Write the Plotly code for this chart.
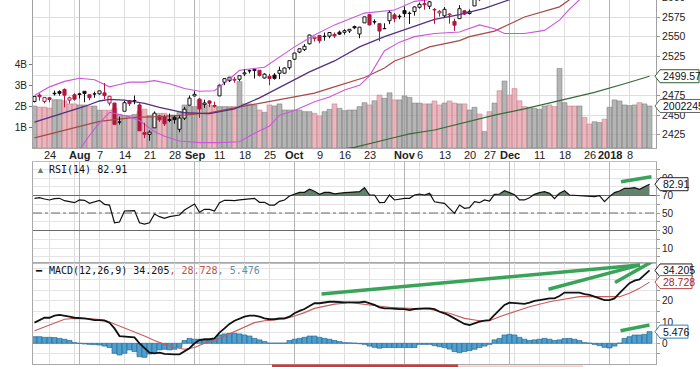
import plotly.graph_objects as go

W, H = 700, 367

# ---------------- data ----------------
# trading-day position 0 = 2017-07-19 ... 123 = 2018-01-12
opens = [
    2467.40, 2475.56, 2467.40, 2472.04, 2477.88, 2479.97, 2482.76, 2469.12, 2475.94, 2477.10,
    2480.38, 2476.03, 2476.88, 2477.14, 2478.35, 2465.35, 2465.38, 2441.04, 2454.96, 2468.66,
    2468.63, 2462.95, 2427.64, 2425.50, 2433.75, 2449.00, 2447.91, 2444.50, 2447.35, 2431.94,
    2446.06, 2462.65, 2474.42, 2470.35, 2463.83, 2468.06, 2462.25, 2474.52, 2491.94, 2493.89,
    2494.56, 2495.67, 2502.51, 2506.29, 2506.84, 2507.16, 2497.26, 2499.39, 2501.04, 2503.30,
    2503.41, 2510.42, 2521.20, 2530.34, 2533.48, 2540.86, 2547.44, 2551.39, 2549.99, 2550.62,
    2552.88, 2555.66, 2555.57, 2557.17, 2562.87, 2553.39, 2567.56, 2578.08, 2568.66, 2566.52,
    2560.08, 2570.26, 2577.75, 2575.99, 2583.21, 2579.46, 2581.93, 2587.47, 2592.11, 2588.71,
    2584.00, 2580.18, 2576.53, 2577.75, 2569.45, 2572.95, 2582.94, 2579.49, 2589.17, 2600.31,
    2600.42, 2602.66, 2605.94, 2627.82, 2633.93, 2645.10, 2657.19, 2639.78, 2626.24, 2628.38,
    2646.21, 2652.19, 2661.73, 2667.59, 2665.87, 2660.63, 2685.92, 2692.71, 2688.18, 2683.02,
    2684.22, 2679.09, 2682.10, 2686.10, 2689.15, 2683.73, 2697.85, 2719.31, 2731.33, 2742.67,
    2751.15, 2745.55, 2752.97, 2770.18]
highs = [
    2473.83, 2477.62, 2472.54, 2473.10, 2481.24, 2481.69, 2484.04, 2473.53, 2477.96, 2478.51,
    2480.38, 2476.03, 2480.00, 2480.95, 2490.87, 2474.41, 2465.38, 2448.09, 2468.22, 2468.90,
    2474.93, 2465.02, 2440.27, 2430.58, 2454.77, 2450.50, 2450.39, 2451.95, 2449.12, 2449.19,
    2460.61, 2475.01, 2480.38, 2471.97, 2469.64, 2468.62, 2467.11, 2488.95, 2496.77, 2498.37,
    2498.43, 2500.23, 2508.32, 2507.84, 2508.85, 2507.16, 2503.47, 2502.54, 2503.51, 2511.75,
    2510.81, 2519.44, 2529.23, 2535.13, 2540.53, 2552.51, 2549.41, 2551.82, 2555.23, 2555.24,
    2555.33, 2557.65, 2559.47, 2559.71, 2564.11, 2562.36, 2575.44, 2578.29, 2572.18, 2567.40,
    2567.07, 2582.98, 2580.03, 2578.29, 2588.40, 2582.07, 2588.42, 2593.38, 2597.02, 2595.47,
    2586.50, 2583.81, 2587.66, 2579.66, 2572.84, 2590.09, 2583.96, 2584.64, 2601.19, 2600.94,
    2604.21, 2606.41, 2627.69, 2634.89, 2657.74, 2650.62, 2665.19, 2648.72, 2634.41, 2640.99,
    2651.65, 2660.33, 2669.72, 2671.88, 2668.09, 2679.63, 2694.97, 2694.44, 2691.01, 2692.64,
    2685.35, 2682.74, 2685.64, 2687.66, 2692.12, 2695.89, 2714.37, 2729.29, 2743.45, 2748.51,
    2759.14, 2750.80, 2767.56, 2787.85]
lows = [
    2466.18, 2468.43, 2465.06, 2466.32, 2474.91, 2474.94, 2459.93, 2464.66, 2468.53, 2471.14,
    2466.48, 2468.85, 2472.08, 2475.88, 2470.32, 2462.08, 2437.75, 2437.85, 2454.96, 2461.61,
    2463.86, 2430.01, 2420.69, 2417.35, 2433.67, 2441.42, 2436.19, 2441.04, 2439.03, 2428.20,
    2443.77, 2462.65, 2473.85, 2446.55, 2459.20, 2460.29, 2459.40, 2474.52, 2488.31, 2492.14,
    2491.35, 2493.16, 2499.92, 2503.19, 2496.67, 2499.00, 2496.54, 2488.03, 2495.12, 2495.91,
    2502.93, 2507.99, 2520.40, 2528.85, 2531.80, 2540.02, 2543.79, 2541.60, 2544.86, 2547.95,
    2548.31, 2552.09, 2552.64, 2554.69, 2559.67, 2547.92, 2567.56, 2564.33, 2565.58, 2544.00,
    2559.80, 2565.94, 2568.25, 2572.15, 2574.92, 2566.17, 2576.77, 2585.66, 2584.35, 2585.02,
    2566.33, 2575.57, 2574.48, 2566.56, 2557.45, 2572.95, 2577.62, 2578.24, 2589.17, 2595.23,
    2600.42, 2598.87, 2605.44, 2620.32, 2633.93, 2605.52, 2639.03, 2627.73, 2624.75, 2628.09,
    2644.10, 2651.47, 2659.78, 2662.85, 2652.01, 2659.14, 2685.92, 2680.74, 2676.11, 2682.40,
    2678.13, 2677.96, 2678.91, 2682.69, 2673.61, 2682.36, 2697.77, 2719.07, 2727.92, 2737.60,
    2747.86, 2736.06, 2752.78, 2769.64]
closes = [
    2473.83, 2473.45, 2472.54, 2469.91, 2477.13, 2477.83, 2475.42, 2472.10, 2470.30, 2476.35,
    2477.57, 2472.16, 2476.83, 2480.91, 2474.92, 2474.02, 2438.21, 2441.32, 2465.84, 2464.61,
    2468.11, 2430.01, 2425.55, 2428.37, 2452.51, 2444.04, 2438.97, 2443.05, 2444.24, 2446.30,
    2457.59, 2471.65, 2476.55, 2457.85, 2465.54, 2465.10, 2461.43, 2488.11, 2496.48, 2498.37,
    2495.62, 2500.23, 2503.87, 2506.65, 2508.24, 2500.60, 2502.22, 2496.66, 2496.84, 2507.04,
    2510.06, 2519.36, 2529.12, 2534.58, 2537.74, 2552.07, 2549.33, 2544.73, 2550.64, 2555.24,
    2550.93, 2553.17, 2557.64, 2559.36, 2561.26, 2562.10, 2575.21, 2564.98, 2569.13, 2557.15,
    2560.40, 2581.07, 2572.83, 2575.26, 2579.36, 2579.85, 2587.84, 2591.13, 2590.64, 2594.38,
    2584.62, 2582.30, 2584.84, 2578.87, 2564.62, 2585.64, 2578.85, 2582.14, 2599.03, 2597.08,
    2602.42, 2601.42, 2627.04, 2626.07, 2647.58, 2642.22, 2639.44, 2629.57, 2629.27, 2636.98,
    2651.50, 2659.99, 2664.11, 2662.85, 2652.01, 2675.81, 2690.16, 2681.47, 2679.25, 2684.57,
    2683.34, 2680.50, 2682.62, 2687.54, 2673.61, 2695.81, 2713.06, 2723.99, 2743.15, 2747.71,
    2751.29, 2748.23, 2767.56, 2786.24]
prev_close_start = 2460.61

volume_billions = [
    2.00, 1.95, 1.95, 1.90, 2.30, 2.30, 2.25, 2.10, 2.10, 2.05,
    2.05, 2.00, 2.00, 1.80, 1.80, 1.80, 1.90, 1.60, 1.55, 1.55,
    1.60, 1.75, 1.85, 1.55, 1.60, 1.65, 1.65, 1.57, 1.57, 1.73,
    2.05, 2.00, 1.97, 2.29, 2.10, 2.05, 2.00, 1.97, 1.97, 1.97,
    1.97, 3.16, 2.10, 2.10, 2.05, 1.81, 1.70, 2.05, 2.00, 2.10,
    1.81, 1.81, 1.81, 1.81, 1.73, 1.73, 1.65, 1.52, 1.73, 1.84,
    2.10, 1.89, 1.78, 1.81, 1.81, 1.97, 2.16, 2.05, 2.25, 2.52,
    2.37, 2.63, 2.29, 2.29, 2.48, 2.41, 2.14, 2.14, 2.10, 2.10,
    2.24, 2.05, 2.14, 2.24, 2.14, 2.10, 2.10, 1.81, 1.94, 1.62,
    0.78, 1.73, 2.14, 2.73, 3.19, 2.52, 2.83, 2.25, 1.97, 1.94,
    1.89, 1.84, 2.00, 2.05, 1.97, 3.79, 2.16, 2.00, 2.00, 2.00,
    1.46, 1.14, 1.25, 1.21, 1.37, 1.94, 2.29, 2.24, 2.05, 2.02,
    2.05, 2.16, 2.10, 2.002]

bb_upper_x = [0, 3, 6, 9, 12, 14, 15, 17, 19, 22, 24, 27, 30, 33, 36, 39, 41, 46, 52, 56, 60, 66, 72,
              76, 80, 85, 88, 90, 95, 100, 105, 110, 115, 120, 123]
bb_upper = [2475, 2486, 2493, 2497, 2495, 2489, 2486, 2489, 2492, 2492, 2494, 2490, 2484, 2480.5, 2481,
            2496, 2507, 2511, 2537, 2552, 2565, 2580, 2584, 2595, 2598, 2599, 2601, 2612, 2640, 2670,
            2690, 2705, 2706, 2755, 2790]
bb_mid_x = [0, 5, 10, 13, 15, 18, 22, 25, 30, 35, 40, 45, 50, 55, 60, 65, 70, 75, 80, 85, 90, 95,
            100, 105, 110, 115, 120, 123]
bb_mid = [2441, 2451, 2461, 2468, 2470, 2469, 2465, 2460, 2453, 2452, 2458, 2472, 2489, 2505, 2519,
          2537, 2550, 2561, 2572, 2578, 2586, 2597, 2612, 2630, 2652, 2668, 2692, 2710]
bb_lower_x = [0, 4, 7, 9, 11, 13, 15, 17, 19, 21, 22, 24, 26, 29, 33, 37, 41, 44, 47, 49, 52, 56, 59,
              62, 65, 67, 70, 73, 76, 80, 85, 87, 89, 92, 94, 98, 102, 105, 107, 109, 112, 116, 120, 123]
bb_lower = [2403, 2400, 2400, 2406, 2424, 2440, 2453.6, 2451, 2448, 2443, 2438, 2429, 2423, 2417,
            2415, 2415, 2416, 2427, 2436, 2450, 2456, 2467, 2473, 2482, 2488, 2500, 2532, 2543, 2550,
            2554, 2556, 2560, 2565, 2560, 2554, 2554, 2558, 2571, 2585, 2597, 2612, 2625, 2640, 2650]
sma50_x = [0, 5, 9, 13, 20, 25, 30, 35, 39, 45, 50, 52, 56, 59, 63, 66, 70, 72, 75, 79, 85, 87, 92,
           98, 105, 107, 110, 115, 120, 123]
sma50 = [2421, 2429, 2436, 2442, 2447, 2448, 2450, 2453, 2458, 2465, 2471, 2473, 2478, 2484, 2492,
         2498, 2510, 2519, 2526, 2537, 2545, 2550, 2557, 2575, 2588, 2597, 2606, 2620, 2636, 2645]
sma200_x = [0, 10, 20, 30, 40, 50, 60, 64, 72, 75, 80, 87, 92, 98, 105, 112, 118, 123]
sma200 = [2352, 2360, 2368, 2377, 2387, 2396, 2405, 2409, 2421.5, 2426, 2431, 2442, 2450, 2458,
          2468.6, 2479, 2490, 2499.57]

rsi14 = [
    66.8, 67.5, 66.0, 64.9, 66.4, 66.8, 64.1, 63.0, 61.8, 64.9,
    64.5, 61.0, 62.6, 64.5, 59.9, 59.1, 38.9, 39.7, 52.3, 52.3,
    52.7, 38.9, 37.4, 38.9, 48.9, 45.8, 43.9, 45.8, 46.6, 47.7,
    53.4, 57.2, 60.3, 50.8, 54.2, 54.2, 52.3, 61.8, 64.5, 64.5,
    64.1, 64.9, 65.6, 66.4, 66.8, 62.2, 62.2, 59.1, 59.1, 63.3,
    64.9, 69.4, 71.3, 73.6, 73.6, 77.1, 74.8, 71.3, 73.6, 73.6,
    71.8, 72.9, 73.2, 73.6, 74.4, 74.4, 78.9, 70.6, 70.6, 61.8,
    62.2, 70.6, 64.9, 66.0, 66.8, 66.8, 70.6, 71.7, 70.6, 72.5,
    62.9, 61.8, 61.0, 55.3, 49.6, 59.1, 55.3, 56.1, 62.9, 61.8,
    64.9, 63.7, 71.3, 71.7, 75.5, 73.3, 70.9, 64.9, 64.9, 67.5,
    71.3, 73.3, 74.4, 72.5, 66.4, 72.5, 75.5, 70.6, 70.2, 70.6,
    69.4, 69.0, 68.7, 69.8, 62.9, 68.7, 73.3, 75.1, 78.2, 78.2,
    78.9, 77.1, 80.1, 82.91]
rsi_overbought, rsi_mid, rsi_oversold = 70, 50, 30

macd_line = [
    9.7, 10.9, 12.0, 12.0, 13.0, 13.3, 13.0, 12.5, 12.0, 12.0,
    11.7, 11.3, 10.9, 10.9, 10.6, 9.7, 7.0, 3.4, 3.1, 3.1,
    2.8, 0.0, -2.3, -4.4, -4.7, -4.4, -5.0, -5.2, -5.2, -5.2,
    -3.9, -2.3, 0.0, 1.5, 1.9, 1.9, 2.3, 5.0, 7.0, 9.1,
    10.6, 11.7, 12.5, 13.0, 13.0, 12.5, 11.7, 11.3, 11.3, 11.7,
    11.7, 12.5, 14.1, 15.2, 16.1, 17.5, 18.8, 18.8, 19.2, 19.5,
    19.5, 19.2, 19.2, 19.2, 19.1, 19.2, 19.5, 18.8, 18.0, 16.9,
    16.4, 16.4, 16.1, 16.0, 16.0, 15.6, 16.1, 16.4, 16.4, 16.4,
    16.0, 14.8, 14.1, 13.0, 11.7, 10.2, 9.1, 8.6, 9.4, 10.2,
    10.6, 10.9, 13.3, 15.6, 18.0, 19.1, 18.8, 18.5, 18.5, 19.1,
    19.9, 20.3, 20.7, 21.1, 21.1, 22.2, 23.8, 23.9, 23.9, 23.8,
    23.1, 22.7, 21.9, 21.1, 20.3, 20.3, 21.1, 23.5, 25.8, 28.2,
    29.4, 30.0, 32.1, 34.205]
macd_signal_x = [0, 2, 4, 6, 8, 10, 12, 14, 16, 18, 20, 22, 24, 26, 28, 30, 32, 34, 36, 38, 40, 42,
                 44, 46, 48, 50, 52, 54, 56, 58, 60, 62, 63, 67, 71, 75, 79, 83, 86, 89, 91, 93, 95,
                 97, 99, 101, 103, 105, 107, 109, 111, 113, 115, 117, 119, 121, 123]
macd_signal = [5.9, 7.8, 9.7, 11.3, 11.7, 11.7, 11.4, 10.9, 9.1, 7.0, 5.5, 3.4, 1.3, -0.5, -1.9,
               -2.8, -2.0, 0.0, 1.3, 3.4, 5.5, 7.5, 9.7, 10.6, 10.9, 11.4, 12.8, 14.4, 16.4, 17.5,
               18.4, 18.8, 19.2, 18.0, 16.9, 16.4, 16.0, 14.1, 11.7, 10.6, 10.6, 12.5, 14.1, 15.6,
               17.2, 18.3, 19.5, 20.3, 21.1, 21.9, 21.9, 21.9, 21.6, 21.9, 23.5, 25.8, 28.728]
macd_hist = [
    3.1, 3.1, 2.8, 2.8, 2.7, 2.3, 1.9, 1.3, 0.3, 0.0,
    -0.3, -0.5, -0.6, -0.8, -1.3, -2.0, -4.7, -5.5, -4.7, -3.1,
    -3.9, -6.3, -6.6, -5.0, -4.7, -3.1, -2.8, -3.1, -2.8, -1.9,
    1.3, 2.3, 1.9, 1.9, 1.6, 1.3, 2.3, 3.9, 4.4, 4.7,
    4.7, 4.4, 3.9, 3.4, 2.3, 1.6, 0.8, 0.1, 0.1, 0.1,
    0.1, 1.3, 1.9, 2.3, 2.8, 3.4, 3.4, 2.8, 2.3, 1.9,
    1.3, 0.8, 0.3, 0.2, 0.1, -0.2, -0.5, -1.3, -1.9, -2.3,
    -2.0, -2.0, -2.0, -2.0, -2.0, -2.0, -2.0, -0.5, -0.5, -0.5,
    -1.1, -1.6, -2.0, -2.7, -3.9, -4.4, -3.9, -3.4, -2.8, -2.0,
    -1.3, -0.5, 1.6, 2.3, 3.9, 4.2, 3.9, 2.8, 1.9, 1.3,
    1.6, 1.9, 2.3, 1.9, 1.3, 1.6, 2.2, 2.3, 1.9, 1.3,
    0.3, 0.1, -0.5, -1.1, -1.9, -2.2, -1.3, 0.1, 2.3, 3.1,
    3.9, 3.9, 4.2, 5.476]

# hand-drawn trend lines (trading-day position, indicator value)
rsi_trend_x, rsi_trend_y = [117.3, 123.4], [85.8, 91.5]
macd_trend_x = [[57.4, 121.1], [102.8, 121.1], [116.1, 123.4]]
macd_trend_y = [[23.1, 36.8], [25.4, 36.8], [28.5, 38.2]]
hist_trend_x, hist_trend_y = [117.2, 123.0], [5.9, 8.6]

date_tick_pos = [3, 8, 9, 13, 18, 23, 28, 32, 33, 37, 42, 47, 52, 57, 62, 67, 72, 74, 77, 82,
                 87, 91, 95, 96, 101, 106, 111, 115, 119]
date_tick_text = ['24', '', 'Aug', '7', '14', '21', '28', 'Sep', '', '11', '18', '25', 'Oct', '9',
                  '16', '23', '', 'Nov', '6', '13', '20', '27', 'Dec', '', '11', '18', '26', '2018', '8']
month_labels = ['Aug', 'Sep', 'Oct', 'Nov', 'Dec', '2018']
month_start_pos = [9, 32, 52, 74, 95, 115]

price_ticks = [2425, 2450, 2475, 2500, 2525, 2550, 2575]
volume_ticks = [1, 2, 3, 4]
volume_tick_text = ['1B', '2B', '3B', '4B']
rsi_ticks = [0, 10, 20, 30, 40, 50, 60, 70, 80, 90, 100]
rsi_tick_text = ['', '10', '', '30', '', '50', '', '70', '', '90', '']
macd_ticks = [-5, 0, 5, 10, 15, 20, 25, 30, 35]
macd_tick_text = ['', '0', '', '10', '', '20', '', '30', '']

# ---------------- geometry / style ----------------
X_L, X_R = 33, 656
PRICE_PX, RSI_PX, MACD_PX = (0, 148), (162, 263), (263, 364)
DATE_LABEL_PX = 155
price_range = [2408.1, 2596.7]
vol_range = [0, 7.05]
rsi_range = [-7.14, 108.29]
macd_range = [-9.72, 37.70]
x_range = [-0.3, 124.3]


def dom(px):
    return [1 - px[1] / H, 1 - px[0] / H]


XD = [X_L / W, X_R / W]
FONT = 'Liberation Sans, Arial, sans-serif'
MONO = 'DejaVu Sans Mono, monospace'
RED = '#b0173f'
BLK = '#111111'
GRID = '#dedede'
MONTH_GRID = '#b4b4b4'

N = len(closes)
X = list(range(N))
prev = [prev_close_start] + closes[:-1]
cand_col = [RED if c < p else BLK for c, p in zip(closes, prev)]
cand_fill = ['#ffffff' if c > o else cc for o, c, cc in zip(opens, closes, cand_col)]
vol_fill = ['rgba(224,155,165,0.72)' if cc == RED else 'rgba(150,150,150,0.70)' for cc in cand_col]
vol_edge = ['rgba(200,125,138,0.9)' if cc == RED else 'rgba(125,125,125,0.9)' for cc in cand_col]

fig = go.Figure()

# volume (left axis, behind price)
fig.add_trace(go.Bar(x=X, y=volume_billions, width=1.0,
                     marker=dict(color=vol_fill, line=dict(color=vol_edge, width=0.6)),
                     xaxis='x', yaxis='y'))

# overlays
for xs, ys, color, w in [(sma200_x, sma200, '#356b35', 1.2),
                         (sma50_x, sma50, '#a84848', 1.2),
                         (bb_upper_x, bb_upper, '#cc55dd', 1.1),
                         (bb_lower_x, bb_lower, '#cc55dd', 1.1),
                         (bb_mid_x, bb_mid, '#55307f', 1.3)]:
    fig.add_trace(go.Scatter(x=xs, y=ys, mode='lines', line=dict(color=color, width=w),
                             xaxis='x', yaxis='y2'))

# candle wicks (split so hollow bodies stay clean)
for color in (BLK, RED):
    wx, wy = [], []
    for i in range(N):
        if cand_col[i] != color:
            continue
        top, bot = max(opens[i], closes[i]), min(opens[i], closes[i])
        if highs[i] > top:
            wx += [i, i, None]
            wy += [top, highs[i], None]
        if lows[i] < bot:
            wx += [i, i, None]
            wy += [lows[i], bot, None]
    fig.add_trace(go.Scatter(x=wx, y=wy, mode='lines', line=dict(color=color, width=1),
                             xaxis='x', yaxis='y2'))

body_base = [min(o, c) for o, c in zip(opens, closes)]
body_h = [max(abs(c - o), 0.3) for o, c in zip(opens, closes)]
fig.add_trace(go.Bar(x=X, y=body_h, base=body_base, width=0.62,
                     marker=dict(color=cand_fill, line=dict(color=cand_col, width=1)),
                     xaxis='x', yaxis='y2'))

# RSI
fig.add_trace(go.Scatter(x=X, y=[rsi_overbought] * N, mode='lines', line=dict(width=0),
                         xaxis='x2', yaxis='y3'))
fig.add_trace(go.Scatter(x=X, y=[max(v, rsi_overbought) for v in rsi14], mode='lines',
                         line=dict(width=0), fill='tonexty', fillcolor='#63826a',
                         xaxis='x2', yaxis='y3'))
fig.add_trace(go.Scatter(x=X, y=rsi14, mode='lines', line=dict(color='#111', width=1.2),
                         xaxis='x2', yaxis='y3'))
fig.add_trace(go.Scatter(x=rsi_trend_x, y=rsi_trend_y, mode='lines',
                         line=dict(color='#3aa35a', width=3.5), xaxis='x2', yaxis='y3'))

# MACD
fig.add_trace(go.Bar(x=X, y=macd_hist, width=1.0,
                     marker=dict(color='#4f9fcf', line=dict(color='#2a6d96', width=0.7)),
                     xaxis='x3', yaxis='y4'))
fig.add_trace(go.Scatter(x=macd_signal_x, y=macd_signal, mode='lines',
                         line=dict(color='#c65c5c', width=1.1), xaxis='x3', yaxis='y4'))
fig.add_trace(go.Scatter(x=X, y=macd_line, mode='lines', line=dict(color='#111', width=1.8),
                         xaxis='x3', yaxis='y4'))
for tx, ty in zip(macd_trend_x + [hist_trend_x], macd_trend_y + [hist_trend_y]):
    fig.add_trace(go.Scatter(x=tx, y=ty, mode='lines', line=dict(color='#3aa35a', width=3.5),
                             xaxis='x3', yaxis='y4'))

# ---------------- shapes & annotations ----------------
shapes, annotations = [], []
for xr, yr, rng in (('x', 'y', vol_range), ('x2', 'y3', rsi_range), ('x3', 'y4', macd_range)):
    for m in month_start_pos:
        shapes.append(dict(type='line', xref=xr, yref=yr, x0=m, x1=m, y0=rng[0], y1=rng[1],
                           line=dict(color=MONTH_GRID, width=1), layer='between'))
for lvl, dash in ((rsi_overbought, 'solid'), (rsi_oversold, 'solid'), (rsi_mid, 'dashdot')):
    shapes.append(dict(type='line', xref='x2', yref='y3', x0=x_range[0], x1=x_range[1],
                       y0=lvl, y1=lvl,
                       line=dict(color='#6a6a6a', width=1.2 if dash == 'solid' else 1, dash=dash),
                       layer='between'))

# remnants of a lower panel cut by the image edge
shapes.append(dict(type='rect', xref='paper', yref='paper', x0=272 / W, x1=458 / W,
                   y0=0, y1=2.6 / H, fillcolor='#cc3b3b', line=dict(width=0), layer='above'))
shapes.append(dict(type='rect', xref='paper', yref='paper', x0=458 / W, x1=583 / W,
                   y0=0, y1=1.6 / H, fillcolor='#f2c8c8', line=dict(width=0), layer='above'))


def y_px(v, rng, px):
    return px[0] + (rng[1] - v) / (rng[1] - rng[0]) * (px[1] - px[0])


def add_tag(v, rng, px, text, border, tcolor, right_px):
    yp = y_px(v, rng, px)
    hh, tip, x0 = 6.5, 655, 660
    pts = [(x0, yp - hh), (right_px, yp - hh), (right_px, yp + hh), (x0, yp + hh), (tip, yp)]
    path = 'M ' + ' L '.join('%.5f,%.5f' % (x / W, 1 - y / H) for x, y in pts) + ' Z'
    shapes.append(dict(type='path', xref='paper', yref='paper', path=path,
                       line=dict(color=border, width=1), fillcolor='white', layer='above'))
    annotations.append(dict(xref='paper', yref='paper', x=(x0 + 0.5) / W, y=1 - yp / H,
                            xanchor='left', yanchor='middle', text=text, showarrow=False,
                            font=dict(family=FONT, size=10.5, color=tcolor)))


add_tag(sma200[-1], price_range, PRICE_PX, '%.2f' % sma200[-1], '#2f5f2f', '#111', 699)
add_tag(volume_billions[-1], vol_range, PRICE_PX, '2002245632', '#666', '#111', 730)
add_tag(rsi14[-1], rsi_range, RSI_PX, '%.2f' % rsi14[-1], '#222', '#111', 688)
add_tag(macd_line[-1], macd_range, MACD_PX, '%.3f' % macd_line[-1], '#222', '#111', 692)
add_tag(macd_signal[-1], macd_range, MACD_PX, '%.3f' % macd_signal[-1], '#c04848', '#a02828', 692)
add_tag(macd_hist[-1], macd_range, MACD_PX, '%.3f' % macd_hist[-1], '#3a7fb0', '#111', 688)

# partially visible top price label
annotations.append(dict(xref='paper', yref='paper', x=660 / W,
                        y=1 - y_px(2600, price_range, PRICE_PX) / H, xanchor='left',
                        yanchor='middle', text='2600', showarrow=False,
                        font=dict(family=FONT, size=10.5, color='#222')))

# date labels under the price panel
for pos, txt in zip(date_tick_pos, date_tick_text):
    if not txt:
        continue
    label = '<b>%s</b>' % txt if txt in month_labels else txt
    annotations.append(dict(xref='x', yref='paper', x=pos, y=1 - DATE_LABEL_PX / H,
                            xanchor='center', yanchor='middle', text=label, showarrow=False,
                            font=dict(family=FONT, size=11, color='#222')))

# panel titles
annotations.append(dict(xref='paper', yref='paper', x=40 / W, y=1 - 169.5 / H, text='▲',
                        showarrow=False, font=dict(family=FONT, size=9, color='#63826a'),
                        xanchor='center', yanchor='middle'))
annotations.append(dict(xref='paper', yref='paper', x=47 / W, y=1 - 169.5 / H,
                        text='RSI(14) %.2f' % rsi14[-1], showarrow=False, xanchor='left',
                        yanchor='middle', font=dict(family=MONO, size=10, color='#111')))
annotations.append(dict(xref='paper', yref='paper', x=39 / W, y=1 - 270.5 / H, text='━',
                        showarrow=False, font=dict(family=MONO, size=10, color='#111'),
                        xanchor='center', yanchor='middle'))
annotations.append(dict(
    xref='paper', yref='paper', x=47 / W, y=1 - 270.5 / H, showarrow=False, xanchor='left',
    yanchor='middle', font=dict(family=MONO, size=10, color='#111'),
    text=('MACD(12,26,9) %.3f<span style="color:#c0504d">, %.3f</span>'
          '<span style="color:#5b8fae">, %.3f</span>') % (macd_line[-1], macd_signal[-1],
                                                           macd_hist[-1])))

axis_font = dict(family=FONT, size=10.5, color='#222')
common_x = dict(domain=XD, range=x_range, tickvals=date_tick_pos, showticklabels=False,
                showgrid=True, gridcolor=GRID, zeroline=False, showline=True, ticks='',
                automargin=False)

fig.update_layout(
    width=W, height=H, margin=dict(l=0, r=0, t=0, b=0, autoexpand=False),
    paper_bgcolor='white', plot_bgcolor='white', showlegend=False,
    barmode='overlay', hovermode=False,
    xaxis=dict(common_x, anchor='y', linecolor='#a8a8a8'),
    xaxis2=dict(common_x, anchor='y3', matches='x', mirror=True, linecolor='#bdbdbd'),
    xaxis3=dict(common_x, anchor='y4', matches='x', mirror=True, linecolor='#a8a8a8'),
    yaxis=dict(domain=dom(PRICE_PX), range=vol_range, side='left', anchor='x',
               tickvals=volume_ticks, ticktext=volume_tick_text,
               tickfont=dict(family=FONT, size=10, color='#222'), showgrid=False,
               zeroline=False, showline=True, linecolor='#a0a0a0', ticks='outside', ticklen=3,
               tickcolor='#777', automargin=False),
    yaxis2=dict(range=price_range, overlaying='y', side='right', anchor='x',
                tickvals=price_ticks, tickfont=axis_font, showgrid=True, gridcolor=GRID,
                zeroline=False, showline=True, linecolor='#a0a0a0', ticks='outside',
                ticklen=3, tickcolor='#999', automargin=False),
    yaxis3=dict(domain=dom(RSI_PX), range=rsi_range, side='right', anchor='x2',
                tickvals=rsi_ticks, ticktext=rsi_tick_text,
                tickfont=dict(family=FONT, size=10, color='#222'), showgrid=True,
                gridcolor='#e4e4e4', zeroline=False, showline=True, mirror=True,
                linecolor='#a8a8a8', ticks='outside', ticklen=3, tickcolor='#999',
                automargin=False),
    yaxis4=dict(domain=dom(MACD_PX), range=macd_range, side='right', anchor='x3',
                tickvals=macd_ticks, ticktext=macd_tick_text,
                tickfont=dict(family=FONT, size=10, color='#222'), showgrid=True,
                gridcolor='#e4e4e4', zeroline=False, showline=True, mirror=True,
                linecolor='#a8a8a8', ticks='outside', ticklen=3, tickcolor='#999',
                automargin=False),
    shapes=shapes, annotations=annotations,
)

fig.write_html('out.html',
               config={'displayModeBar': False, 'staticPlot': True},
               post_script="document.body.style.margin='0';"
                           "document.body.style.overflow='hidden';")
